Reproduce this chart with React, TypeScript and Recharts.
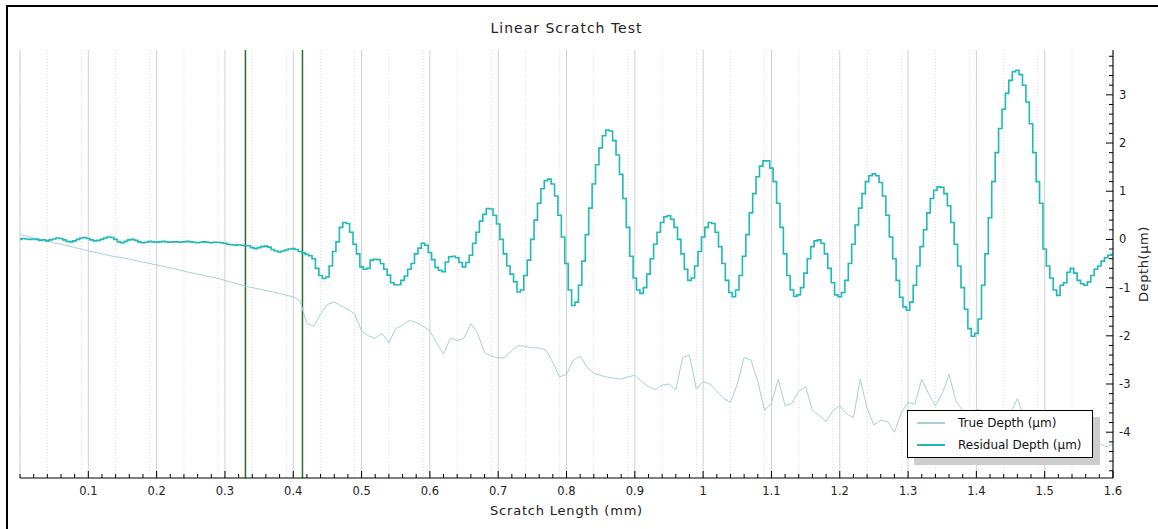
import {
  LineChart,
  Line,
  XAxis,
  YAxis,
  CartesianGrid,
  ReferenceLine,
  Legend,
  Label,
} from "recharts";

// ──────────────────────────────────────────────
// Data
// ──────────────────────────────────────────────

// residual depth, one reading every 0.005 mm from 0 to 1.6 mm
const RESIDUAL_STEP = 0.005;
const RESIDUAL_DEPTH = [
  0.0, 0.02, 0.01, 0.0, 0.01, 0.0, -0.02, -0.01, -0.03, -0.01, 0.01, 0.03, 0.02, -0.01, -0.04, -0.05, -0.03, 0.0, 0.03, 0.04,
  0.02, -0.01, -0.03, -0.02, 0.0, 0.03, 0.05, 0.04, 0.0, -0.05, -0.07, -0.04, -0.01, 0.0, -0.02, -0.05, -0.07, -0.06, -0.04, -0.05,
  -0.06, -0.05, -0.04, -0.05, -0.06, -0.05, -0.05, -0.06, -0.05, -0.04, -0.05, -0.06, -0.07, -0.06, -0.05, -0.06, -0.07, -0.06, -0.06, -0.07,
  -0.08, -0.1, -0.11, -0.12, -0.11, -0.12, -0.13, -0.13, -0.17, -0.19, -0.17, -0.15, -0.14, -0.16, -0.21, -0.24, -0.26, -0.24, -0.22, -0.2,
  -0.19, -0.21, -0.25, -0.28, -0.31, -0.34, -0.4, -0.6, -0.75, -0.81, -0.78, -0.55, -0.25, -0.05, 0.25, 0.35, 0.33, 0.15, -0.1, -0.3,
  -0.57, -0.62, -0.6, -0.43, -0.41, -0.42, -0.5, -0.62, -0.74, -0.9, -0.94, -0.94, -0.85, -0.76, -0.62, -0.5, -0.3, -0.18, -0.08, -0.12,
  -0.27, -0.42, -0.58, -0.64, -0.67, -0.47, -0.36, -0.35, -0.38, -0.48, -0.57, -0.48, -0.33, -0.08, 0.15, 0.38, 0.52, 0.64, 0.63, 0.5,
  0.32, 0.0, -0.3, -0.55, -0.72, -0.88, -1.09, -1.05, -0.75, -0.43, 0.0, 0.4, 0.75, 1.05, 1.22, 1.25, 1.15, 0.9, 0.5, 0.05,
  -0.5, -1.05, -1.37, -1.3, -0.95, -0.45, 0.1, 0.65, 1.15, 1.55, 1.9, 2.15, 2.27, 2.25, 2.05, 1.75, 1.35, 0.85, 0.25, -0.35,
  -0.8, -1.05, -1.12, -1.0, -0.72, -0.4, -0.1, 0.15, 0.35, 0.47, 0.49, 0.42, 0.25, 0.0, -0.3, -0.62, -0.85, -0.8, -0.55, -0.25,
  0.05, 0.25, 0.35, 0.33, 0.15, -0.15, -0.5, -0.85, -1.1, -1.19, -1.05, -0.75, -0.35, 0.1, 0.55, 0.95, 1.3, 1.52, 1.63, 1.63,
  1.48, 1.2, 0.75, 0.25, -0.3, -0.75, -1.05, -1.18, -1.15, -1.0, -0.7, -0.4, -0.15, -0.03, -0.01, -0.08, -0.3, -0.6, -0.9, -1.15,
  -1.19, -1.1, -0.85, -0.5, -0.1, 0.3, 0.65, 0.95, 1.2, 1.32, 1.36, 1.32, 1.18, 0.9, 0.5, 0.05, -0.4, -0.85, -1.2, -1.4,
  -1.47, -1.3, -0.95, -0.55, -0.15, 0.2, 0.55, 0.85, 1.02, 1.09, 1.08, 0.95, 0.7, 0.35, -0.1, -0.55, -1.0, -1.45, -1.85, -2.01,
  -1.95, -1.65, -0.95, -0.3, 0.45, 1.2, 1.8, 2.3, 2.7, 3.03, 3.3, 3.48, 3.51, 3.42, 3.2, 2.85, 2.4, 1.8, 1.2, 0.75,
  -0.2, -0.55, -0.8, -1.05, -1.16, -0.95, -0.9, -0.68, -0.6, -0.7, -0.85, -0.92, -0.95, -0.88, -0.75, -0.62, -0.55, -0.45, -0.38, -0.33,
  -0.31,
];

// true depth, one reading every 0.01 mm from 0 to 1.6 mm
const TRUE_STEP = 0.01;
const TRUE_DEPTH = [
  0.1, 0.07, 0.03, 0.0, -0.03, -0.07, -0.1, -0.13, -0.17, -0.2,
  -0.24, -0.27, -0.3, -0.33, -0.36, -0.38, -0.41, -0.44, -0.47, -0.5,
  -0.53, -0.56, -0.59, -0.62, -0.66, -0.69, -0.72, -0.75, -0.78, -0.81,
  -0.85, -0.89, -0.93, -0.97, -1.0, -1.03, -1.06, -1.09, -1.12, -1.16,
  -1.19, -1.28, -1.75, -1.8, -1.55, -1.35, -1.3, -1.38, -1.45, -1.55,
  -1.9, -2.0, -2.05, -1.95, -2.15, -1.85, -1.78, -1.68, -1.72, -1.8,
  -1.9, -2.15, -2.38, -2.05, -2.1, -2.05, -1.75, -1.95, -2.35, -2.42,
  -2.46, -2.45, -2.3, -2.2, -2.22, -2.25, -2.25, -2.3, -2.55, -2.85,
  -2.8, -2.5, -2.42, -2.65, -2.78, -2.82, -2.86, -2.88, -2.9, -2.85,
  -2.82, -2.95, -3.05, -3.12, -3.02, -3.0, -3.12, -2.45, -2.4, -3.1,
  -2.95, -3.0, -3.15, -3.3, -3.38, -3.0, -2.45, -2.5, -2.95, -3.55,
  -3.4, -2.9, -3.45, -3.4, -3.15, -3.05, -3.55, -3.65, -3.78, -3.55,
  -3.45, -3.62, -3.7, -2.9, -3.5, -3.85, -3.75, -3.78, -4.0, -3.6,
  -3.38, -3.42, -2.9, -3.2, -3.45, -3.2, -2.8, -3.35, -3.55, -3.6,
  -3.53, -3.55, -3.7, -3.75, -3.7, -3.6, -3.3, -3.7, -3.85, -3.95,
  -4.0, -4.05, -4.1, -4.1, -4.15, -4.15, -4.2, -4.22, -4.24, -4.3,
  -4.25,
];

// the two green cursor lines (mm)
const MARKERS = [0.33, 0.4135];

const SERIES_NAMES = ["True Depth (µm)", "Residual Depth (µm)"];

const X_LABELS = [0.1, 0.2, 0.3, 0.4, 0.5, 0.6, 0.7, 0.8, 0.9, 1, 1.1, 1.2, 1.3, 1.4, 1.5, 1.6];
const Y_LABELS = [-4, -3, -2, -1, 0, 1, 2, 3];

const X_DOMAIN: [number, number] = [0, 1.6];
const Y_DOMAIN: [number, number] = [-4.95, 3.93];

// ──────────────────────────────────────────────
// Helpers
// ──────────────────────────────────────────────

const range = (from: number, to: number, step: number) => {
  const n = Math.round((to - from) / step);
  const out: number[] = [];
  for (let i = 0; i <= n; i++) out.push(+(from + i * step).toFixed(4));
  return out;
};

const X_TICKS = range(0, 1.6, 0.02);
const X_FINE = range(0.01, 1.59, 0.01).filter((v) => !X_LABELS.includes(v));
const X_MAJOR_GRID = X_LABELS.filter((v) => v < 1.6);
const Y_TICKS = range(-4.8, 3.8, 0.2);

const residualData = RESIDUAL_DEPTH.map((d, i) => ({ x: +(i * RESIDUAL_STEP).toFixed(3), depth: d }));
const trueData = TRUE_DEPTH.map((d, i) => ({ x: +(i * TRUE_STEP).toFixed(2), depth: d }));

const FONT = "'DejaVu Sans', Verdana, sans-serif";

const BottomTick = ({ x, y, payload }: any) => {
  const v = payload.value;
  const major = X_LABELS.includes(v);
  return (
    <g>
      <line x1={x} x2={x} y1={y} y2={y - (major ? 7 : 4)} stroke="#000" />
      {major && (
        <text x={x} y={y + 17} textAnchor="middle" fontFamily={FONT} fontSize={11.5} fill="#222">
          {String(v)}
        </text>
      )}
    </g>
  );
};

const TopTick = ({ x, y, payload }: any) => {
  const major = X_LABELS.includes(payload.value);
  return <line x1={x} x2={x} y1={y} y2={y + (major ? 7 : 3)} stroke="#000" />;
};

const RightTick = ({ x, y, payload }: any) => {
  const v = payload.value;
  const major = Y_LABELS.includes(v);
  return (
    <g>
      <line x1={x} x2={x - (major ? 7 : 4)} y1={y} y2={y} stroke="#000" />
      {major && (
        <text x={x + 6} y={y + 4} textAnchor="start" fontFamily={FONT} fontSize={11.5} fill="#222">
          {String(v)}
        </text>
      )}
    </g>
  );
};

const YTitle = ({ viewBox }: any) => {
  const cx = viewBox.x + 30;
  const cy = viewBox.y + viewBox.height / 2;
  return (
    <text
      x={cx}
      y={cy}
      transform={`rotate(-90 ${cx} ${cy})`}
      textAnchor="middle"
      dominantBaseline="central"
      fontFamily={FONT}
      fontSize={13}
      letterSpacing={0.6}
      fill="#222"
    >
      Depth(µm)
    </text>
  );
};

const renderLegend = ({ payload }: any) => {
  // keep the series order of the plot, not alphabetical
  const items = [...(payload ?? [])].sort(
    (a: any, b: any) => SERIES_NAMES.indexOf(a.value) - SERIES_NAMES.indexOf(b.value)
  );
  return (
    <div
      style={{
        width: 186,
        height: 48,
        boxSizing: "border-box",
        background: "#fff",
        border: "1.5px solid #000",
        boxShadow: "7px 7px 0 #cdcdcd",
        padding: "1px 0 0 9px",
        fontFamily: FONT,
        fontSize: 12,
        color: "#111",
      }}
    >
      {items.map((entry: any) => (
        <div key={entry.value} style={{ display: "flex", alignItems: "center", height: 22 }}>
          <span
            style={{
              display: "inline-block",
              width: 28,
              height: 2,
              background: entry.color,
              marginRight: 13,
            }}
          />
          <span>{entry.value}</span>
        </div>
      ))}
    </div>
  );
};

// ──────────────────────────────────────────────
// Component
// ──────────────────────────────────────────────

export default function App() {
  return (
    <div style={{ position: "absolute", left: 0, top: 0, width: 1158, height: 529, background: "#fff", overflow: "hidden" }}>
      {/* frame */}
      <div
        style={{
          position: "absolute",
          left: 6,
          top: 5,
          width: 1200,
          height: 600,
          borderLeft: "2px solid #000",
          borderTop: "2px solid #000",
        }}
      />
      <div
        style={{
          position: "absolute",
          left: 20,
          width: 1093,
          top: 20,
          textAlign: "center",
          fontFamily: FONT,
          fontSize: 14,
          letterSpacing: 1,
          lineHeight: "16px",
          color: "#222",
        }}
      >
        Linear Scratch Test
      </div>

      <div style={{ position: "absolute", left: 0, top: 0 }}>
        <LineChart width={1158} height={529} margin={{ top: 50, right: 0, bottom: 0, left: 20 }}>
          <XAxis xAxisId="fine" type="number" dataKey="x" domain={X_DOMAIN} allowDataOverflow ticks={X_FINE} hide />
          <XAxis xAxisId="major" type="number" dataKey="x" domain={X_DOMAIN} allowDataOverflow ticks={X_MAJOR_GRID} hide />
          <CartesianGrid xAxisId="fine" horizontal={false} stroke="#d9d9d9" strokeDasharray="1 2" />
          <CartesianGrid xAxisId="major" horizontal={false} stroke="#d0d0d0" />

          <XAxis
            xAxisId="top"
            orientation="top"
            height={0}
            type="number"
            dataKey="x"
            domain={X_DOMAIN}
            allowDataOverflow
            ticks={X_TICKS}
            interval={0}
            tickLine={false}
            tickSize={0}
            tickMargin={0}
            tick={<TopTick />}
            axisLine={{ stroke: "#000" }}
          />
          <XAxis
            xAxisId="bottom"
            orientation="bottom"
            height={51}
            type="number"
            dataKey="x"
            domain={X_DOMAIN}
            allowDataOverflow
            ticks={X_TICKS}
            interval={0}
            tickLine={false}
            tickSize={0}
            tickMargin={0}
            tick={<BottomTick />}
            axisLine={{ stroke: "#000" }}
          >
            <Label
              value="Scratch Length (mm)"
              position="insideBottom"
              offset={14}
              style={{ fontFamily: FONT, fontSize: 13, letterSpacing: 0.8, fill: "#222" }}
            />
          </XAxis>
          <YAxis
            orientation="right"
            width={45}
            type="number"
            domain={Y_DOMAIN}
            allowDataOverflow
            ticks={Y_TICKS}
            interval={0}
            tickLine={false}
            tickSize={0}
            tickMargin={0}
            tick={<RightTick />}
            axisLine={{ stroke: "#000" }}
          >
            <Label content={<YTitle />} />
          </YAxis>

          {MARKERS.map((m) => (
            <ReferenceLine key={m} xAxisId="bottom" x={m} stroke="#2f6b2f" strokeWidth={1.5} />
          ))}

          <Line
            xAxisId="bottom"
            data={trueData}
            dataKey="depth"
            name={SERIES_NAMES[0]}
            type="linear"
            stroke="#a8cfd9"
            strokeWidth={1}
            dot={false}
            isAnimationActive={false}
          />
          <Line
            xAxisId="bottom"
            data={residualData}
            dataKey="depth"
            name={SERIES_NAMES[1]}
            type="step"
            stroke="#1fbab5"
            strokeWidth={1.6}
            dot={false}
            isAnimationActive={false}
          />

          <Legend
            layout="vertical"
            align="center"
            verticalAlign="middle"
            content={renderLegend}
            wrapperStyle={{ position: "absolute", left: 907, top: 410, width: "auto", height: "auto" }}
          />
        </LineChart>
      </div>
    </div>
  );
}
